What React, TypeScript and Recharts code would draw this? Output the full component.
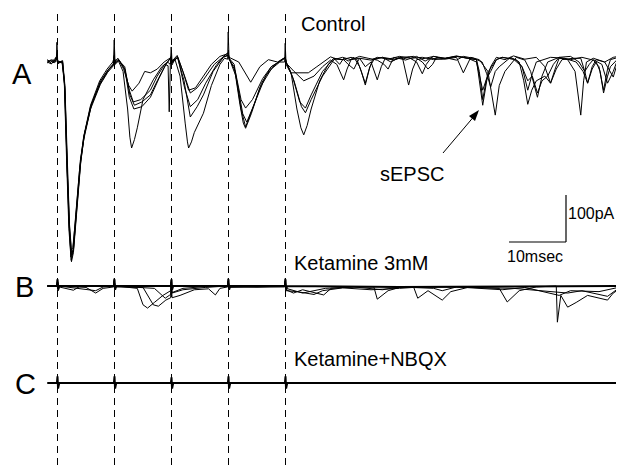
import React from 'react';
import { LineChart, Line, XAxis, YAxis, ReferenceLine } from 'recharts';

type Pt = [number, number]; // [time ms, current pA]

// stimulus times (ms)
const stimTimes = [0, 10, 20, 30, 40];

// Control sweeps (A)
const control1: Pt[] = [
  [-1.8, 0], [-1.2, 4], [-0.6, -2], [-0.2, 6], [-0.1, 42], [0.05, -4], [0.8, 2], [1.2, -40], [1.6, -190],
  [2.0, -340], [2.4, -422], [2.8, -400], [3.3, -320], [4.0, -220], [4.6, -165], [5.8, -100], [7.5, -48],
  [8.8, -22], [9.8, -8], [9.95, 47], [10.1, -5], [10.7, 2], [11.5, -20], [12.3, -100], [12.7, -160],
  [13.0, -183], [13.5, -165], [14.0, -140], [15.0, -80], [16.8, -38], [18.3, -10], [19.3, 0], [19.8, -5],
  [19.95, 8], [20.1, -6], [20.6, 6], [21.5, -30], [22.4, -130], [22.8, -170], [23.0, -183], [23.5, -170],
  [24.0, -150], [25.6, -109], [27.0, -50], [28.5, -5], [29.3, 8], [29.85, 6], [29.95, 64], [30.1, 5],
  [31.0, -10], [32.0, -90], [32.6, -130], [33.0, -141], [34.0, -110], [35.5, -55], [37.5, -15], [39.0, 0],
  [39.85, 0], [39.95, 40], [40.1, -5], [41.0, -25], [42.0, -100], [42.7, -140], [43.2, -155], [43.8, -135],
  [44.5, -100], [46, -40], [47.5, -5], [48.5, 8], [49.5, -5], [50.2, 8], [51, 2], [52, 10], [53, -10],
  [54, -45], [54.8, -10], [55.5, 5], [57, 10], [58.5, 0], [60, 10], [61, 4], [63, 12], [64.5, 2], [66, 12],
  [68, 8], [70, 13], [72, 8], [73.5, 5], [74.6, -92], [75.3, -40], [76, -10], [77, 10], [78.5, 5], [80, 13],
  [82, 6], [84, 10], [85.5, -10], [86.5, -45], [87.3, -15], [88, 8], [90, 5], [92, 10], [94, 4], [95, -10],
  [95.8, -60], [96.5, -15], [97, 5], [98.4, 10],
];
const control2: Pt[] = [
  [-1.8, 3], [-1.0, -3], [-0.4, 5], [-0.1, 12], [0.05, 0], [0.9, 0], [1.3, -60], [1.7, -220], [2.1, -350],
  [2.4, -400], [2.7, -395], [3.2, -330], [4.0, -210], [4.6, -160], [5.8, -95], [7.5, -42], [8.8, -18],
  [9.8, -4], [9.95, 10], [10.1, 0], [10.7, 6], [11.8, -15], [12.6, -60], [13.3, -85], [14.6, -80],
  [16.3, -60], [17.5, -30], [18.8, -5], [19.4, -8], [19.6, -106], [19.8, -5], [19.95, 32], [20.1, 0],
  [21.1, 10], [22.3, -30], [23.3, -66], [24.5, -55], [25.6, -38], [27.5, -5], [29.1, 11], [29.95, 15],
  [30.1, 8], [31.2, -20], [32.2, -80], [33.0, -98], [34.2, -80], [36.0, -35], [37.5, -10], [38.6, -2],
  [39.95, 8], [40.1, -2], [41.5, -20], [43.2, -40], [45, -30], [46.5, -10], [47.9, 4], [49, -5], [50.2, -38],
  [50.8, -15], [51.5, 5], [53, 8], [54, -10], [55, 0], [56.1, -38], [56.8, -10], [57.5, 8], [59, 4],
  [60.5, 10], [61.6, -49], [62.3, -15], [63, 5], [64.5, 8], [66, 12], [68, 6], [70, 10], [71.2, -23],
  [72.5, 10], [74, 5], [75.5, -20], [76.8, -113], [77.5, -50], [78.5, -20], [80.5, 10], [82, 4], [83, -20],
  [84.2, -75], [85, -30], [86, 0], [88, 10], [89.5, 5], [90.8, -20], [91.8, -113], [92.3, -40], [92.8, 0],
  [94, 8], [96, 0], [97.5, -32], [98.4, 5],
];
const control3: Pt[] = [
  [-1.8, -2], [-1.0, 5], [-0.3, 0], [-0.1, 10], [0.05, -2], [0.9, 3], [1.3, -50], [1.7, -200], [2.1, -345],
  [2.5, -410], [2.8, -398], [3.4, -310], [4.1, -205], [4.8, -150], [6.0, -90], [7.6, -40], [9.0, -15],
  [9.8, -5], [9.95, 12], [10.1, -2], [10.8, 4], [11.8, -15], [12.6, -75], [13.4, -100], [14.8, -95],
  [16.3, -75], [17.8, -35], [19.0, -5], [19.95, 10], [20.1, 0], [21.0, 12], [22.2, -40], [23.3, -117],
  [24.5, -95], [25.6, -70], [27.3, -20], [29.1, 10], [29.95, 14], [30.1, 8], [31.0, -5], [32.2, -100],
  [33.0, -138], [34.2, -100], [35.8, -45], [37.5, -10], [38.8, 0], [39.95, 10], [40.1, 0], [41.2, -30],
  [42.5, -85], [43.5, -98], [44.5, -70], [46.5, -20], [48.5, 8], [50, 5], [51.5, 10], [52.5, 6], [53.3, -20],
  [54.0, -49], [54.7, -15], [55.3, 6], [57, 10], [59, 6], [60.5, 10], [62.5, 12], [64, 0], [65, -15],
  [65.8, -5], [66.5, 10], [68, 8], [70, 12], [72, 8], [73.5, 0], [74.6, -60], [75.3, -35], [76, -20], [77, 5],
  [78, 10], [80, 6], [81.5, -10], [82.5, -60], [83.3, -25], [84, 0], [86.5, 10], [89, 8], [91, 0],
  [92.2, -20], [93, -45], [93.8, -15], [94.5, 0], [95.2, -20], [95.8, -66], [96.5, -30], [97, -10], [98.4, 8],
];
const control4: Pt[] = [
  [-1.8, 5], [-1.2, 0], [-0.5, 6], [-0.1, 12], [0.05, 2], [0.8, 0], [1.2, -45], [1.6, -210], [2.0, -355],
  [2.35, -415], [2.7, -400], [3.2, -325], [3.9, -225], [4.6, -158], [5.8, -92], [7.4, -40], [8.7, -15],
  [9.7, 0], [9.95, 10], [10.1, 2], [10.6, 8], [11.6, -15], [12.5, -50], [13.1, -62], [14.3, -45],
  [15.3, -20], [16.3, -23], [17.5, -15], [18.7, 0], [19.95, 10], [20.1, 2], [21.0, 14], [22.0, -20],
  [23.0, -60], [24.2, -55], [25.6, -30], [27.0, -5], [28.5, 12], [29.95, 18], [30.1, 10], [31.8, 0],
  [33.9, -43], [35.5, -10], [37.0, 5], [38.6, 0], [39.95, 10], [40.1, 0], [41.0, -23], [44.0, -23],
  [45.5, -10], [47.9, 11], [49, 6], [50.2, 5], [51, -5], [52, -15], [52.6, 0], [53, 8], [55, 4], [56.1, 10],
  [58, 6], [60, 12], [62, 8], [64, 10], [66, 5], [68.5, 8], [70, 4], [71.2, 12], [73, 8], [74.5, 0],
  [75.3, -25], [76.0, -53], [76.8, -20], [77.5, -10], [79.5, 10], [81, 0], [81.8, -40], [82.5, -90],
  [83.2, -60], [84, -40], [85.5, -30], [86.5, -45], [87.5, -15], [88.5, 5], [90.5, 8], [91.8, 8], [92.5, -20],
  [93, -45], [93.8, -10], [94.5, 5], [96, 0], [97.5, 10], [98.4, 12],
];
const control5: Pt[] = [
  [-1.8, 0], [-1.1, -4], [-0.5, 3], [-0.1, 14], [0.05, 0], [0.9, -2], [1.3, -55], [1.7, -230], [2.1, -360],
  [2.45, -425], [2.8, -405], [3.4, -315], [4.1, -210], [4.7, -155], [5.9, -92], [7.6, -44], [8.9, -18],
  [9.8, -6], [9.95, 14], [10.1, -3], [10.7, 4], [11.8, -10], [12.7, -70], [13.5, -92], [14.8, -85],
  [16.3, -70], [17.5, -40], [18.8, -10], [19.95, 12], [20.1, -2], [21.1, 10], [22.3, -55], [23.3, -95],
  [24.6, -80], [26, -45], [27.8, -8], [29.1, 12], [29.95, 20], [30.1, 8], [31.3, -30], [32.5, -110],
  [33.2, -128], [34.5, -90], [36.5, -30], [38.2, -5], [39.95, 10], [40.1, 0], [41.5, -40], [42.8, -95],
  [43.5, -108], [44.5, -80], [46.5, -30], [48.5, 5], [50, 10], [51.5, 5], [53, 12], [54.5, 8], [56.1, 4],
  [57.3, -5], [58, -15], [58.6, 0], [59, 10], [60.5, 6], [61.6, 10], [63, 0], [64, -25], [64.7, -5],
  [65.5, 8], [67.5, 6], [70, 12], [72, 8], [73.5, 5], [74, -20], [74.6, -80], [75.2, -40], [75.6, -20],
  [77, 5], [78, 10], [80.5, 5], [81.5, -10], [82.5, -40], [83.3, -30], [84.2, -66], [85, -40], [86, -30],
  [87, -5], [88, 10], [90, 12], [91.5, 0], [92.5, -20], [93.3, -5], [94, 5], [95.5, -5], [96.5, -45],
  [97.5, -20], [98.4, 10],
];

// Ketamine 3mM sweeps (B)
const ketamine1: Pt[] = [
  [-1.8, 0], [-0.1, 0], [0, 16], [0.15, -10], [0.3, -2], [2.8, -9], [4, 0], [9.85, 0], [9.95, 16],
  [10.1, -8], [10.3, 0], [14, -5], [15.0, -40], [15.8, -47], [17, -35], [18.5, -20], [19.85, -10],
  [19.95, 12], [20.1, -14], [22, -5], [25, -2], [29.85, 0], [29.95, 16], [30.1, -8], [30.3, 0], [39.85, 0],
  [39.95, 16], [40.1, -8], [41.4, -15], [43, -8], [46.7, -19], [48, -5], [52, -2], [55.5, -2], [56.1, -28],
  [58, -10], [60, -3], [70, -2], [77.5, -5], [78.9, -34], [81, -10], [84, -2], [87.5, 0], [87.7, -77],
  [88.3, -20], [89.5, -45], [91, -35], [93, -20], [96.5, -30], [97.5, -15], [98.4, -8],
];
const ketamine2: Pt[] = [
  [-1.8, 0], [-0.1, 0], [0, 10], [0.2, 0], [5, -3], [6.7, -15], [8, -5], [9.85, -2], [9.95, 12], [10.1, -2],
  [15, -3], [16.8, -40], [17.7, -43], [19, -30], [19.85, -25], [19.95, 8], [20.1, -25], [21.5, -20],
  [24, -8], [26.5, -6], [27.7, -19], [28.5, -5], [29.85, -2], [29.95, 10], [30.1, -3], [39.85, -2],
  [39.95, 10], [40.1, -10], [42, -12], [45, -18], [46.5, -10], [50, -4], [55, -8], [60, -5], [62.5, -3],
  [63.2, -26], [65, -10], [67.5, -30], [69, -12], [72, -3], [80, -5], [89.5, -15], [92, -10], [96.5, -22],
  [98.4, -5],
];
const ketamine3: Pt[] = [
  [-1.8, 0], [-0.1, 0], [0, 10], [0.2, 0], [6.7, -10], [8, -2], [9.85, 0], [9.95, 10], [10.1, 0], [17, -5],
  [18.9, -26], [19.6, -20], [19.85, -18], [19.95, 8], [20.1, -15], [22, -8], [26, -3], [29.85, 0],
  [29.95, 10], [30.1, 0], [35, -2], [39.85, 0], [39.95, 10], [40.1, -5], [43, -15], [47, -5], [52, -2],
  [57, -8], [60, -2], [66, -5], [67.5, -10], [70, -2], [78, -8], [82, -3], [88, -20], [90, -10], [95, -12],
  [98.4, -3],
];
const ketamine4: Pt[] = [
  [-1.8, 0], [-0.1, 0], [0, 14], [0.1, -8], [0.3, 0], [9.9, 0], [10, 14], [10.1, -8], [10.3, 0], [19.9, 0],
  [20, 14], [20.1, -8], [20.3, 0], [29.9, 0], [30, 14], [30.1, -8], [30.3, 0], [39.9, 0], [40, 14],
  [40.1, -8], [40.3, 0], [60, -2], [80, -1], [98.4, 0],
];

// Ketamine + NBQX (C)
const nbqx: Pt[] = [
  [-1.8, 0], [-0.1, 0], [0, 14], [0.1, -12], [0.3, 0], [9.9, 0], [10, 14], [10.1, -12], [10.3, 0], [19.9, 0],
  [20, 12], [20.1, -12], [20.3, 0], [29.9, 0], [30, 14], [30.1, -12], [30.3, 0], [39.9, 0], [40, 14],
  [40.1, -12], [40.3, 0], [98.4, 0],
];

const controlSweeps = [control1, control2, control3, control4, control5];
const ketamineSweeps = [ketamine1, ketamine2, ketamine3, ketamine4];

const toRows = (pts: Pt[]) => pts.map(([t, i]) => ({ t, i }));

const W = 618;
const H = 465;
const font = '"Liberation Sans", Arial, sans-serif';

export default function App() {
  return (
    <div style={{ position: 'absolute', left: 0, top: 0, width: W, height: H, background: '#fff' }}>
      <LineChart width={W} height={H} margin={{ top: 10, right: 1.9, bottom: 0, left: 11.9 }}>
        <XAxis type="number" dataKey="t" domain={[-8, 98]} allowDataOverflow hide />
        <YAxis yAxisId="a" type="number" domain={[-857.6, 110.7]} allowDataOverflow hide />
        <YAxis yAxisId="b" type="number" domain={[-380.9, 587.3]} allowDataOverflow hide />
        <YAxis yAxisId="c" type="number" domain={[-174.5, 793.7]} allowDataOverflow hide />
        {stimTimes.map((s) => (
          <ReferenceLine key={s} yAxisId="a" x={s} stroke="#000" strokeWidth={1} strokeDasharray="7 5" />
        ))}
        {controlSweeps.map((sw, k) => (
          <Line
            key={'a' + k}
            yAxisId="a"
            data={toRows(sw)}
            dataKey="i"
            type="linear"
            stroke="#000"
            strokeWidth={1}
            dot={false}
            isAnimationActive={false}
          />
        ))}
        {ketamineSweeps.map((sw, k) => (
          <Line
            key={'b' + k}
            yAxisId="b"
            data={toRows(sw)}
            dataKey="i"
            type="linear"
            stroke="#000"
            strokeWidth={k === 3 ? 2 : 1}
            dot={false}
            isAnimationActive={false}
          />
        ))}
        <Line
          yAxisId="c"
          data={toRows(nbqx)}
          dataKey="i"
          type="linear"
          stroke="#000"
          strokeWidth={2}
          dot={false}
          isAnimationActive={false}
        />
      </LineChart>
      <svg
        width={W}
        height={H}
        style={{ position: 'absolute', left: 0, top: 0, pointerEvents: 'none' }}
        fontFamily={font}
      >
        <text x={12} y={84} fontSize={29}>A</text>
        <text x={15} y={297} fontSize={29}>B</text>
        <text x={15} y={394} fontSize={29}>C</text>
        <text x={301} y={31} fontSize={20}>Control</text>
        <text x={380} y={181} fontSize={20}>sEPSC</text>
        <line x1={443} y1={153} x2={476} y2={114} stroke="#000" strokeWidth={1} />
        <polygon points="479,110 469,116 475,121" fill="#000" />
        <text x={294} y={270} fontSize={20}>Ketamine 3mM</text>
        <text x={294} y={366} fontSize={20}>Ketamine+NBQX</text>
        <line x1={566} y1={195} x2={566} y2={242} stroke="#000" strokeWidth={1.2} />
        <line x1={509} y1={242} x2={566} y2={242} stroke="#000" strokeWidth={1.2} />
        <text x={568} y={219} fontSize={16}>100pA</text>
        <text x={507} y={262} fontSize={16}>10msec</text>
      </svg>
    </div>
  );
}
